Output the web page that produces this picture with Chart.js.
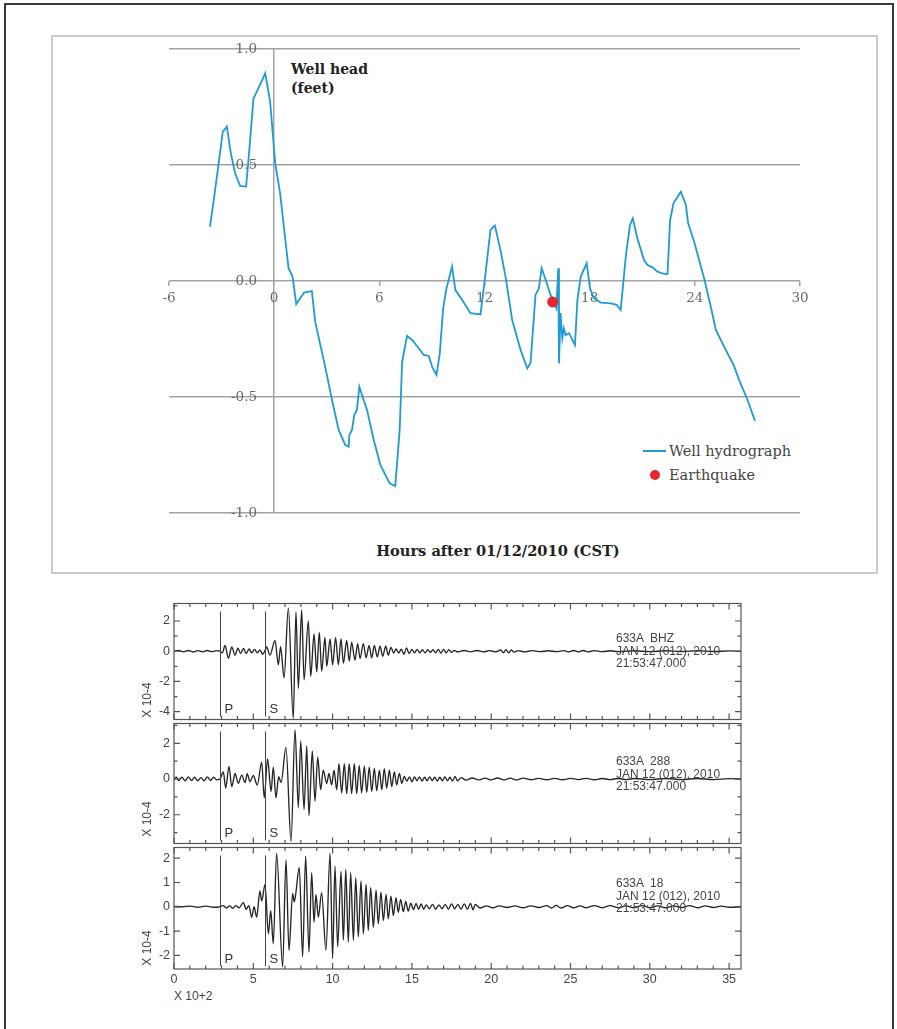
<!DOCTYPE html>
<html>
<head>
<meta charset="utf-8">
<script src="https://cdn.jsdelivr.net/npm/chart.js@4.4.0/dist/chart.umd.min.js"></script>
<style>
  body { margin: 0; background: #fff; }
  #page { position: relative; width: 897px; height: 1029px; overflow: hidden; background: #fff; }
  .frame { position: absolute; left: 4px; top: 3px; width: 886px; height: 1060px; border: 2px solid #3a3a3a; border-bottom: none; }
  .box { position: absolute; left: 51px; top: 35px; width: 823px; height: 535px; border: 2px solid #cbcbcb; }
  canvas { position: absolute; }
  .t { position: absolute; white-space: pre; line-height: 14px; }
  .serif { font-family: "DejaVu Serif", serif; }
  .sans { font-family: "Liberation Sans", Arial, sans-serif; font-size: 12px; color: #444; }
  .bold { font-weight: bold; font-size: 14px; color: #222; line-height: 19px; }
  .legend-line { position: absolute; width: 23px; height: 2px; }
  .legend-dot { position: absolute; width: 10px; height: 10px; border-radius: 50%; }
  .rot { position: absolute; transform: rotate(-90deg); transform-origin: center center; }
</style>
</head>
<body>
<div id="page">
  <div class="frame"></div>
  <div class="box"></div>

  <div class="t serif bold" style="left:291px; top:60px;">Well head
(feet)</div>
  <div class="t serif bold" id="xTitle" style="left:0; width:996px; text-align:center; top:541px; font-size:14.6px;">Hours after 01/12/2010 (CST)</div>
  <div id="legend"></div>

  <div class="t sans" style="left:174px; top:989px;">X 10+2</div>
</div>

<script>
// ---------- Well hydrograph (top plot) ----------
const hours = [
  -3.66, -3.37, -2.93, -2.70, -2.47, -2.23, -1.94, -1.60, -1.37, -1.18,
  -0.95, -0.51, -0.23, 0.06, 0.34, 0.82, 1.05, 1.26, 1.71, 2.15,
  2.34, 2.91, 3.30, 3.68, 4.06, 4.25, 4.29, 4.44, 4.57, 4.72,
  4.86, 5.01, 5.30, 5.68, 6.06, 6.59, 6.91, 7.16, 7.30, 7.58,
  7.87, 8.25, 8.53, 8.82, 9.01, 9.26, 9.45, 9.64, 9.83, 10.15,
  10.34, 10.73, 11.20, 11.77, 12.06, 12.34, 12.59, 12.91, 13.20, 13.58,
  14.06, 14.44, 14.63, 14.82, 14.91, 15.10, 15.26, 15.49, 15.77, 16.10,
  16.21, 16.25, 16.34, 16.44, 16.53, 16.63, 16.82, 17.16, 17.30, 17.49,
  17.83, 18.02, 18.25, 18.63, 19.20, 19.54, 19.77, 20.06, 20.30, 20.46,
  20.72, 21.10, 21.30, 21.58, 21.87, 22.15, 22.44, 22.59, 22.78, 23.20,
  23.49, 23.62, 23.96, 24.53, 24.91, 25.20, 25.67, 26.21, 26.53, 27.01,
  27.43
];
const wellHead = [
  0.234, 0.392, 0.644, 0.665, 0.550, 0.464, 0.410, 0.407, 0.608, 0.787,
  0.823, 0.895, 0.773, 0.507, 0.378, 0.055, 0.019, -0.099, -0.050, -0.043,
  -0.175, -0.369, -0.513, -0.642, -0.707, -0.714, -0.664, -0.642, -0.578, -0.556,
  -0.455, -0.491, -0.556, -0.685, -0.793, -0.872, -0.884, -0.642, -0.348, -0.237,
  -0.254, -0.290, -0.319, -0.323, -0.369, -0.405, -0.312, -0.118, -0.032, 0.062,
  -0.039, -0.082, -0.139, -0.144, 0.033, 0.220, 0.239, 0.134, 0.019, -0.168,
  -0.297, -0.377, -0.352, -0.154, -0.060, -0.032, 0.055, 0.004, -0.060, -0.118,
  0.055, -0.355, -0.138, -0.247, -0.204, -0.233, -0.225, -0.276, -0.082, 0.019,
  0.076, -0.032, -0.075, -0.093, -0.096, -0.103, -0.125, 0.105, 0.241, 0.270,
  0.184, 0.090, 0.069, 0.059, 0.040, 0.033, 0.029, 0.263, 0.335, 0.385,
  0.328, 0.249, 0.169, 0.012, -0.111, -0.211, -0.283, -0.362, -0.427, -0.513,
  -0.603
];
const quakeHour = [15.89];
const quakeHead = [-0.09];
const hourTicks = [-6, 0, 6, 12, 18, 24, 30];
const headTicks = [-1.0, -0.5, 0.0, 0.5, 1.0];
const seriesNames = ['Well hydrograph', 'Earthquake'];

// ---------- Seismograms, station 633A (three components) ----------
const timeTicks = [0, 5, 10, 15, 20, 25, 30, 35];   // x 10^2 s
const pickTimes = [2.9, 5.74];
const pickNames = ['P', 'S'];

const bhzTrace = [
  [0,0],[0.3,0.05],[0.6,-0.04],[0.9,0.05],[1.2,-0.05],[1.5,0.04],[1.8,-0.04],[2.1,0.05],[2.4,-0.03],[2.7,0.04],
  [2.9,0],[3.05,-0.1],[3.22,0.39],[3.43,-0.47],[3.64,0.28],[3.85,-0.26],[4.03,0.2],[4.2,-0.15],[4.38,0.18],[4.55,-0.15],
  [4.73,0.15],[4.9,-0.1],[5.08,0.12],[5.25,-0.1],[5.42,0.08],[5.6,-0.2],[5.74,0.05],[5.84,0.28],[6.05,-0.26],[6.37,0.71],
  [6.58,-0.9],[6.72,0.3],[6.94,-1.76],[7.21,2.86],[7.52,-4.45],[7.69,2.6],[7.84,-2.45],[8.05,2.73],[8.2,-1.9],[8.47,2.0],
  [8.62,-1.66],[8.83,1.14],[9.0,-1.37],[9.16,1.25],[9.31,-1.33],[9.52,0.92],[9.63,-1.0],[9.84,0.82],[10.0,-0.9],[10.19,0.92],
  [10.36,-0.9],[10.53,0.82],[10.68,-0.8],[10.89,0.71],[11.05,-0.65],[11.2,0.6],[11.41,-0.58],[11.58,0.5],[11.73,-0.47],[11.94,0.5],
  [12.11,-0.43],[12.3,0.39],[12.47,-0.43],[12.63,0.39],[12.82,-0.37],[12.99,0.33],[13.16,-0.33],[13.35,0.33],[13.51,-0.26],[13.68,0.26],
  [13.85,-0.12],[14.0,0.15],[14.17,-0.12],[14.33,0.14],[14.5,-0.2],[14.66,0.22],[14.82,-0.15],[15.0,0.12],[15.16,-0.1],[15.33,0.12],
  [15.5,-0.1],[15.66,0.1],[15.83,-0.1],[16.0,0.1],[16.16,-0.08],[16.33,0.1],[16.5,-0.1],[16.66,0.12],[16.83,-0.12],[17.0,0.12],
  [17.16,-0.1],[17.33,0.1],[17.5,-0.08],[17.66,0.06],[17.9,-0.05],[18.3,0.05],[18.7,-0.04],[19.1,0.05],[19.5,-0.04],[19.9,0.04],
  [20.3,-0.04],[20.6,0.08],[20.77,-0.1],[20.93,0.1],[21.1,-0.1],[21.27,0.08],[21.43,-0.06],[21.7,0.04],[22.1,-0.04],[22.6,0.04],
  [23.1,-0.03],[23.6,0.03],[24.1,-0.03],[24.6,0.04],[24.9,-0.05],[25.2,0.05],[25.5,-0.05],[25.8,0.05],[26.1,-0.04],[26.5,0.04],
  [27.0,-0.03],[27.5,0.03],[28,-0.03],[29,0.03],[30,-0.03],[31,0.03],[32,-0.02],[33,0.03],[34,-0.02],[35,0.02],[35.75,0]
];

const ch288Trace = [
  [0,0],[0.15,0.1],[0.3,-0.08],[0.5,0.1],[0.7,-0.1],[0.9,0.12],[1.1,-0.08],[1.3,0.1],[1.5,-0.1],[1.7,0.08],
  [1.9,-0.1],[2.1,0.12],[2.3,-0.08],[2.5,0.1],[2.7,-0.05],[2.9,0],[3.11,0.4],[3.26,-0.5],[3.47,0.71],[3.64,-0.42],
  [3.85,0.31],[4.05,-0.24],[4.27,0.22],[4.48,-0.2],[4.62,0.3],[4.79,-0.15],[5.0,0.2],[5.25,-0.33],[5.53,0.95],[5.69,-1.05],
  [5.9,1.13],[6.12,-0.7],[6.26,0.67],[6.43,-1.05],[6.6,0.13],[6.75,-0.2],[7.06,1.77],[7.38,-3.5],[7.63,2.77],[7.84,-1.6],
  [7.99,2.13],[8.2,-1.7],[8.37,1.86],[8.51,-2.04],[8.72,1.58],[8.89,-1.24],[9.06,1.22],[9.25,-0.6],[9.41,0.49],[9.63,-0.24],
  [9.77,0.31],[9.94,-0.33],[10.09,0.49],[10.26,-0.6],[10.4,0.86],[10.57,-0.78],[10.74,0.86],[10.89,-0.82],[11.05,0.86],[11.2,-0.82],
  [11.37,0.86],[11.52,-0.82],[11.68,0.76],[11.83,-0.78],[12.0,0.72],[12.15,-0.75],[12.31,0.67],[12.47,-0.7],[12.63,0.6],[12.78,-0.65],
  [12.95,0.49],[13.1,-0.6],[13.26,0.58],[13.41,-0.51],[13.58,0.49],[13.73,-0.42],[13.89,0.4],[14.04,-0.33],[14.21,0.31],[14.36,-0.24],
  [14.52,0.15],[14.68,-0.12],[14.84,0.12],[15.0,-0.15],[15.16,0.12],[15.32,-0.1],[15.48,0.12],[15.64,-0.12],[15.8,0.1],[15.96,-0.1],
  [16.12,0.12],[16.28,-0.08],[16.44,0.1],[16.6,-0.12],[16.76,0.1],[16.92,-0.1],[17.08,0.12],[17.24,-0.1],[17.4,0.1],[17.56,-0.12],
  [17.72,0.14],[17.88,-0.1],[18.1,0.08],[18.4,-0.06],[18.8,0.06],[19.2,-0.05],[19.6,0.05],[20.0,-0.05],[20.4,0.06],[20.8,-0.05],
  [21.2,0.05],[21.6,-0.05],[22.0,0.05],[22.5,-0.04],[23,0.04],[23.5,-0.04],[24,0.04],[24.5,-0.04],[25,0.04],[25.5,-0.03],
  [26,0.04],[26.5,-0.04],[27,0.03],[27.5,-0.03],[28,0.03],[28.5,-0.03],[29,0.03],[30,-0.03],[31,0.03],[32,-0.03],
  [33,0.03],[34,-0.03],[35,0.02],[35.75,0]
];

const ch18Trace = [
  [0,0.02],[0.5,0],[1.0,0.03],[1.5,-0.02],[2.0,0.03],[2.5,-0.02],[2.9,0],[3.1,0.05],[3.3,-0.05],[3.5,0.04],
  [3.7,-0.06],[3.9,0.05],[4.1,-0.04],[4.37,0.17],[4.55,-0.1],[4.72,0.05],[4.9,-0.43],[5.05,0.0],[5.21,-0.43],[5.42,0.65],
  [5.53,0.24],[5.74,0.92],[5.95,-1.11],[6.1,-0.16],[6.26,-1.52],[6.47,2.21],[6.85,-2.47],[7.06,1.94],[7.25,-1.8],[7.48,0.55],
  [7.58,0.2],[7.67,0.5],[7.9,1.62],[8.11,-2.06],[8.3,2.08],[8.51,-1.86],[8.68,1.4],[8.83,-0.64],[8.95,0.51],[9.1,-0.43],
  [9.31,0.58],[9.58,-1.79],[9.84,2.21],[10.0,-2.13],[10.15,1.67],[10.32,-1.65],[10.53,1.46],[10.68,-1.38],[10.83,1.54],[10.99,-1.45],
  [11.14,1.4],[11.31,-1.38],[11.46,1.2],[11.62,-1.24],[11.79,1.06],[11.94,-1.11],[12.11,0.92],[12.25,-0.97],[12.4,0.79],[12.57,-0.84],
  [12.74,0.68],[12.88,-0.7],[13.05,0.6],[13.2,-0.57],[13.37,0.51],[13.51,-0.5],[13.68,0.44],[13.83,-0.36],[14.0,0.38],[14.14,-0.23],
  [14.29,0.3],[14.46,-0.2],[14.61,0.22],[14.77,-0.18],[14.93,0.15],[15.1,-0.12],[15.26,0.14],[15.42,-0.1],[15.58,0.12],[15.74,-0.1],
  [15.9,0.08],[16.1,-0.08],[16.3,0.1],[16.5,-0.1],[16.7,0.08],[16.9,-0.08],[17.1,0.1],[17.3,-0.1],[17.5,0.12],[17.7,-0.08],
  [17.9,0.1],[18.1,-0.1],[18.3,0.12],[18.5,-0.1],[18.7,0.14],[18.85,-0.12],[19.0,0.1],[19.3,-0.05],[19.7,0.04],[20.1,-0.04],
  [20.5,0.04],[21.0,-0.03],[21.5,0.04],[22.0,-0.04],[22.5,0.04],[23.0,-0.03],[23.5,0.05],[23.8,-0.05],[24.1,0.06],[24.4,-0.05],
  [24.8,0.05],[25.2,-0.04],[25.6,0.04],[26.0,-0.04],[26.5,0.05],[27,-0.04],[27.5,0.05],[28,-0.04],[28.5,0.04],[29,-0.04],
  [29.5,0.05],[30,-0.04],[30.5,0.04],[31,-0.04],[31.5,0.04],[32,-0.03],[32.5,0.05],[33,-0.04],[33.5,0.04],[34,-0.03],
  [34.5,0.03],[35,-0.02],[35.75,0]
];

const stationHeaders = [
  ['633A  BHZ', 'JAN 12 (012), 2010', '21:53:47.000'],
  ['633A  288', 'JAN 12 (012), 2010', '21:53:47.000'],
  ['633A  18',  'JAN 12 (012), 2010', '21:53:47.000']
];
const ampUnit = 'X 10-4';

// ---------- drawing ----------
const BLUE = '#1f9ad6';
const RED = '#e5262b';
const GRID = '#a3a3a3';
const page = document.getElementById('page');

function addCanvas(left, top, w, h) {
  const c = document.createElement('canvas');
  c.width = w; c.height = h;
  c.style.left = left + 'px'; c.style.top = top + 'px';
  c.style.width = w + 'px'; c.style.height = h + 'px';
  page.appendChild(c);
  return c;
}

// Hydrograph with axes crossing at the origin
const topCanvas = addCanvas(0, 0, 897, 540);
const hydro = new Chart(topCanvas, {
  type: 'scatter',
  data: {
    datasets: [
      {
        label: seriesNames[0],
        data: hours.map((h, i) => ({ x: h, y: wellHead[i] })),
        showLine: true, borderColor: BLUE, borderWidth: 1.8,
        pointRadius: 0, tension: 0, order: 2
      },
      {
        label: seriesNames[1],
        data: quakeHour.map((h, i) => ({ x: h, y: quakeHead[i] })),
        showLine: false, pointRadius: 5.5, pointBackgroundColor: RED,
        pointBorderWidth: 0, order: 1
      }
    ]
  },
  options: {
    responsive: false, animation: false, events: [],
    layout: { padding: { left: 169, right: 97, top: 49, bottom: 27 } },
    plugins: { legend: { display: false }, tooltip: { enabled: false } },
    scales: {
      x: {
        type: 'linear', position: { y: 0 }, min: -6, max: 30,
        afterBuildTicks: s => { s.ticks = hourTicks.map(v => ({ value: v })); },
        ticks: { font: { family: 'DejaVu Serif', size: 13.5 }, color: '#6a6a6a', padding: 4, maxRotation: 0, autoSkip: false },
        grid: {
          color: c => (c.tick && c.tick.value === 0) ? GRID : 'rgba(0,0,0,0)',
          tickColor: GRID, tickLength: 5, lineWidth: 1.5
        },
        border: { display: false }
      },
      y: {
        type: 'linear', position: 'left', min: -1, max: 1,
        // labels sit inside the plot, right-aligned just left of the zero hour line
        afterFit: s => { s.width = 0; s.paddingTop = 0; s.paddingBottom = 0; },
        afterBuildTicks: s => { s.ticks = headTicks.map(v => ({ value: v })); },
        ticks: {
          mirror: true, crossAlign: 'far', padding: 62,
          font: { family: 'DejaVu Serif', size: 13.5 }, color: '#6a6a6a',
          callback: v => Number(v).toFixed(1)
        },
        grid: { color: GRID, lineWidth: 1.5, drawTicks: false },
        border: { display: false }
      }
    }
  }
});

// Legend built from the dataset labels
(function buildLegend() {
  const lg = document.getElementById('legend');
  const ds = hydro.data.datasets;
  lg.innerHTML =
    '<div class="legend-line" style="left:643px; top:450px; background:' + ds[0].borderColor + '"></div>' +
    '<div class="t serif" style="left:669px; top:443px; font-size:14.5px; color:#444; line-height:16px;">' + ds[0].label + '</div>' +
    '<div class="legend-dot" style="left:650px; top:470px; background:' + ds[1].pointBackgroundColor + '"></div>' +
    '<div class="t serif" style="left:669px; top:467px; font-size:14.5px; color:#444; line-height:16px;">' + ds[1].label + '</div>';
})();

// Frame, inward ticks and phase picks for each seismogram panel
const panelDecor = {
  id: 'panelDecor',
  afterDatasetsDraw(chart, args, opts) {
    const { ctx, chartArea: a, scales: { x, y } } = chart;
    ctx.save();
    ctx.strokeStyle = '#555';
    ctx.lineWidth = 1.2;
    ctx.strokeRect(a.left, a.top, a.right - a.left, a.bottom - a.top);
    ctx.beginPath();
    for (let v = Math.ceil(x.min); v <= x.max; v++) {
      const px = x.getPixelForValue(v);
      const len = v % 5 === 0 ? 6 : 3.5;
      ctx.moveTo(px, a.top); ctx.lineTo(px, a.top + len);
      ctx.moveTo(px, a.bottom); ctx.lineTo(px, a.bottom - len);
    }
    for (let v = Math.ceil(y.min); v <= y.max; v++) {
      const py = y.getPixelForValue(v);
      const len = v % opts.labelStep === 0 ? 6 : 3.5;
      ctx.moveTo(a.left, py); ctx.lineTo(a.left + len, py);
      ctx.moveTo(a.right, py); ctx.lineTo(a.right - len, py);
    }
    ctx.stroke();
    // P and S arrival markers
    ctx.strokeStyle = '#444';
    ctx.lineWidth = 1;
    ctx.fillStyle = '#333';
    ctx.font = '13px "Liberation Sans", Arial, sans-serif';
    ctx.textBaseline = 'middle';
    pickTimes.forEach((t, i) => {
      const px = Math.round(x.getPixelForValue(t)) + 0.5;
      ctx.beginPath();
      ctx.moveTo(px, a.top + 8);
      ctx.lineTo(px, a.bottom - 3);
      ctx.stroke();
      ctx.fillText(pickNames[i], px + 4, a.bottom - 10);
    });
    ctx.restore();
  }
};

function seismoPanel(trace, boxTop, boxBottom, yMin, yMax, labelStep, showX) {
  const padTop = 10, xAxisH = showX ? 24 : 0, padBottom = showX ? 4 : 10;
  const h = (boxBottom - boxTop) + padTop + xAxisH + padBottom;
  const cv = addCanvas(124, boxTop - padTop, 640, h);
  return new Chart(cv, {
    type: 'line',
    data: {
      datasets: [{
        data: trace.map(p => ({ x: p[0], y: p[1] })),
        borderColor: '#262626', borderWidth: 1.35, pointRadius: 0,
        cubicInterpolationMode: 'monotone', fill: false
      }]
    },
    options: {
      responsive: false, animation: false, events: [],
      layout: { padding: { left: 0, right: 23, top: padTop, bottom: padBottom } },
      plugins: { legend: { display: false }, tooltip: { enabled: false }, panelDecor: { labelStep } },
      scales: {
        x: {
          type: 'linear', min: 0, max: 35.75, display: showX,
          afterFit: s => { s.height = xAxisH; },
          afterBuildTicks: s => { s.ticks = timeTicks.map(v => ({ value: v })); },
          ticks: { font: { family: 'Liberation Sans', size: 12.5 }, color: '#444', padding: 3, maxRotation: 0, autoSkip: false },
          grid: { display: false, drawTicks: false },
          border: { display: false }
        },
        y: {
          type: 'linear', min: yMin, max: yMax,
          afterFit: s => { s.width = 50; },
          afterBuildTicks: s => {
            const t = [];
            for (let v = Math.ceil(yMin); v <= Math.floor(yMax); v++) {
              if (v % labelStep === 0) t.push({ value: v });
            }
            s.ticks = t;
          },
          ticks: {
            autoSkip: false, padding: 4,
            font: { family: 'Liberation Sans', size: 12.5 }, color: '#444',
            callback: v => String(v)
          },
          grid: { display: false, drawTicks: false },
          border: { display: false }
        }
      }
    },
    plugins: [panelDecor]
  });
}

seismoPanel(bhzTrace, 602, 721, -4.52, 3.16, 2, false);
seismoPanel(ch288Trace, 722, 845, -3.61, 3.11, 2, false);
seismoPanel(ch18Trace, 846, 969, -2.56, 2.44, 1, true);

// Station headers and amplitude unit labels
const headerTops = [631, 754, 876];
const unitCenters = [700, 819, 948];
stationHeaders.forEach((lines, i) => {
  lines.forEach((txt, j) => {
    const d = document.createElement('div');
    d.className = 't sans';
    d.style.left = '616px';
    d.style.top = (headerTops[i] + j * 12.5) + 'px';
    d.textContent = txt;
    page.appendChild(d);
  });
  const u = document.createElement('div');
  u.className = 'rot sans';
  u.style.width = '50px';
  u.style.lineHeight = '14px';
  u.style.textAlign = 'center';
  u.style.left = (147 - 25) + 'px';
  u.style.top = (unitCenters[i] - 7) + 'px';
  u.textContent = ampUnit;
  page.appendChild(u);
});
</script>
</body>
</html>
